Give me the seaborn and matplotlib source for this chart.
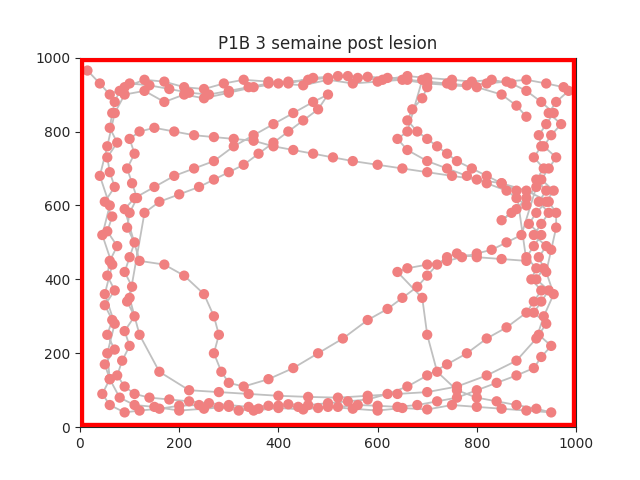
import numpy as np
import matplotlib
matplotlib.use("Agg")
import matplotlib.pyplot as plt
import seaborn as sns

# trajectory, in visit order
pos_x = [15, 40, 60, 90, 130, 170, 210, 250, 290, 330, 380, 420, 470, 520, 560, 610, 660, 700, 750, 790, 830, 870, 900, 930, 955,
         940, 925, 930, 915, 935, 920, 940, 925, 945, 930, 915, 940, 925, 935, 920, 945, 930, 915, 940, 925, 950, 930, 915,
         880, 840, 800, 760, 720, 680, 640, 600, 560, 520, 480, 440, 400, 360, 320, 280, 240, 200, 160, 120, 90, 60, 45,
         60, 50, 70, 55, 65, 50, 70, 55, 60, 75, 55, 65, 50, 70, 60, 55, 75, 60, 65, 70, 80, 100,
         140, 180, 220, 260, 300, 340, 380, 420, 460, 500, 540, 580, 620, 660, 700, 740, 780, 820, 860, 900, 940, 975, 985,
         960, 945, 970, 950, 935, 960, 945, 930, 955, 940, 920, 905, 930, 915, 900, 920, 910, 930, 915, 900,
         860, 820, 780, 740, 700, 660, 620, 580, 540, 500, 460, 420, 380, 340, 300, 260, 220, 180, 140, 110, 90, 75,
         85, 100, 90, 110, 95, 105, 90, 100, 110, 95, 100, 115, 105, 95, 110, 100, 120, 150,
         190, 230, 270, 310, 350, 390, 430, 470, 510, 550, 600, 650, 700, 750, 800, 850, 900, 945, 960,
         960, 950, 940, 955, 935, 920, 880, 820, 760, 700, 640, 580, 520, 460, 400, 340, 280, 220, 160, 120, 100,
         130, 160, 200, 240, 270, 300, 330, 360, 390, 420, 450, 480, 500,
         470, 430, 390, 350, 310, 270, 230, 190, 150, 110, 90,
         120, 170, 210, 250, 270, 280, 270, 285, 300, 330, 380, 430, 480, 530, 580, 620, 650, 680, 700, 720, 740, 760, 800, 850, 900,
         880, 850, 820, 790, 760, 740, 720, 700, 680, 660, 670, 690, 700, 690, 660, 640, 660, 700, 740, 780, 820,
         860, 880, 900, 870, 850, 880, 900, 920, 890, 860, 830, 800, 770, 740, 700, 660, 640,
         690, 700, 720, 760, 800, 840, 880, 920, 950, 900, 850, 800, 750, 700, 650, 600, 550, 500, 450,
         400, 350, 300, 250, 200, 150, 110, 80, 60, 55, 70, 50, 65, 45, 60, 40, 55, 70, 90, 130,
         170, 210, 250, 300, 350, 400, 450, 500, 550, 600, 650, 700, 750, 800, 850, 880, 900]
pos_y = [965, 930, 900, 920, 940, 935, 920, 915, 930, 940, 935, 930, 945, 950, 945, 940, 950, 945, 940, 935, 940, 930, 910, 880, 850,
         820, 790, 760, 730, 700, 670, 640, 610, 580, 550, 520, 490, 460, 430, 400, 370, 340, 310, 280, 250, 220, 190, 160,
         140, 120, 100, 80, 70, 60, 55, 58, 60, 55, 52, 55, 58, 50, 45, 55, 60, 58, 50, 45, 40, 60, 90,
         130, 170, 210, 250, 290, 330, 370, 410, 450, 490, 530, 570, 610, 650, 690, 730, 770, 810, 850, 880, 910, 930,
         925, 915, 905, 900, 910, 920, 930, 935, 940, 945, 950, 948, 945, 940, 935, 930, 925, 930, 935, 940, 930, 920, 910,
         880, 850, 820, 790, 760, 730, 700, 670, 640, 610, 580, 550, 520, 490, 460, 430, 400, 370, 340, 310,
         270, 240, 200, 170, 140, 110, 90, 75, 70, 65, 60, 62, 58, 55, 60, 65, 70, 75, 80, 90, 110, 140,
         180, 220, 260, 300, 340, 380, 420, 460, 500, 540, 580, 620, 660, 700, 740, 780, 800, 810,
         800, 790, 785, 780, 775, 760, 750, 740, 730, 720, 710, 700, 690, 680, 670, 660, 640, 610, 580,
         540, 480, 420, 360, 300, 240, 180, 140, 110, 95, 90, 85, 80, 82, 85, 90, 95, 100, 150, 250, 350,
         580, 610, 630, 650, 670, 690, 710, 740, 770, 800, 830, 860, 900,
         880, 850, 820, 790, 760, 720, 700, 680, 650, 620, 590,
         450, 440, 410, 360, 300, 250, 200, 150, 120, 110, 130, 160, 200, 240, 290, 320, 350, 380, 410, 440, 460, 470, 460, 455, 450,
         640, 660, 680, 700, 720, 740, 760, 780, 800, 830, 860, 890, 920, 940, 800, 780, 750, 720, 700, 680, 660,
         640, 620, 600, 580, 560, 590, 620, 650, 520, 500, 480, 470, 460, 450, 440, 430, 420,
         350, 250, 150, 100, 80, 70, 60, 50, 40, 45, 50, 55, 60, 48, 52, 45, 50, 55, 48,
         52, 45, 55, 50, 45, 55, 60, 80, 130, 200, 280, 360, 440, 520, 600, 680, 760, 850, 900, 910,
         880, 900, 890, 905, 920, 930, 925, 940, 930, 935, 940, 930, 925, 920, 900, 870, 840]

sns.set_style("ticks")
fig, ax = plt.subplots(figsize=(6.4, 4.8), dpi=100)
ax.plot(pos_x, pos_y, color="silver", linewidth=1.3, zorder=1)
sns.scatterplot(x=pos_x, y=pos_y, color="lightcoral", s=55, edgecolor="none", ax=ax, zorder=2)
ax.plot([0, 1000, 1000, 0, 0], [0, 0, 1000, 1000, 0], color="red", linewidth=6, zorder=3)
ax.set_xlim(0, 1000)
ax.set_ylim(0, 1000)
ax.set_xticks([0, 200, 400, 600, 800, 1000])
ax.set_yticks([0, 200, 400, 600, 800, 1000])
ax.set_title("P1B 3 semaine post lesion")
fig.savefig("out.png")
